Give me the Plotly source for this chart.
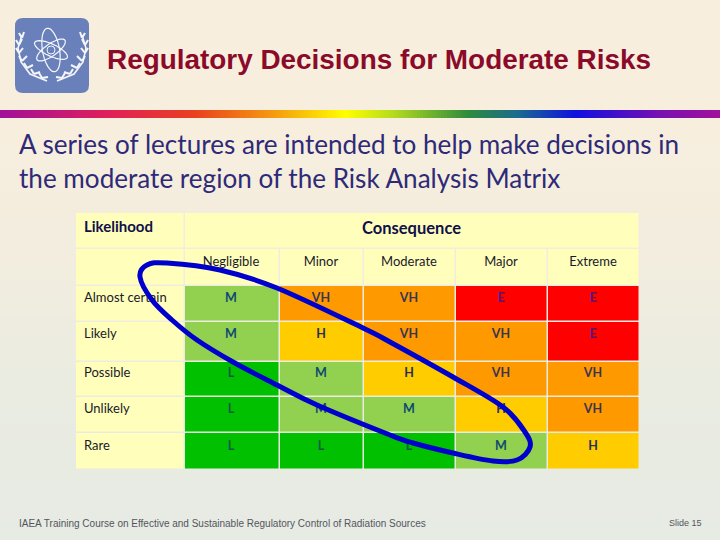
import math
import plotly.graph_objects as go

# ---- data ----
likelihood = ["Almost certain", "Likely", "Possible", "Unlikely", "Rare"]
consequence = ["Negligible", "Minor", "Moderate", "Major", "Extreme"]
ratings = [
    ["M", "VH", "VH", "E", "E"],
    ["M", "H", "VH", "VH", "E"],
    ["L", "M", "H", "VH", "VH"],
    ["L", "M", "M", "H", "VH"],
    ["L", "L", "L", "M", "H"],
]
title = "Regulatory Decisions for Moderate Risks"
subtitle = ["A series of lectures are intended to help make decisions in",
            "the moderate region of the Risk Analysis Matrix"]
footer = "IAEA Training Course on Effective and Sustainable Regulatory Control of Radiation Sources"
slide = "Slide 15"

# ---- styling / layout ----
LEVEL = {"Y": 0, "L": 1, "M": 2, "H": 3, "VH": 4, "E": 5}
COLORS = ["#FFFFBB", "#00C000", "#92D050", "#FFCC00", "#FF9900", "#FF0000"]
TEXT = {"L": "#0B5A42", "M": "#0E4A72", "H": "#2A2F55", "VH": "#3A3550", "E": "#55187A"}
col_edges = [185, 280, 364, 456, 548, 639.5]
row_edges = [286, 322, 362, 397, 433, 470]
left_edge, head_top, head_mid = 76, 213, 249
row_text_y = [299, 335, 374, 410, 447]
col_text_x = [231, 321, 409, 501, 593]

colorscale = []
for i, c in enumerate(COLORS):
    colorscale += [[i / 6, c], [(i + 1) / 6, c]]
colorscale[-1][0] = 1.0

fig = go.Figure()

# page background (vertical fade)
fig.add_trace(go.Heatmap(
    x=[180, 540], y=[0, 130, 260, 400, 540],
    z=[[0, 0], [0.05, 0.05], [0.35, 0.35], [0.8, 0.8], [1, 1]],
    zsmooth="best", zmin=0, zmax=1, showscale=False, hoverinfo="skip",
    colorscale=[[0, "#F8EEDD"], [1, "#E6EBE3"]],
))
# rainbow rule: a decorative ramp drawn as narrow columns
rb_stops = [[0, "#A0109A"], [.15, "#E0205A"], [.27, "#E8401F"], [.38, "#F59A10"], [.48, "#FFFF00"],
            [.55, "#B0D820"], [.65, "#2E8B3C"], [.72, "#1A6A90"], [.8, "#1010E0"], [.92, "#7A10B0"],
            [1, "#A0109A"]]
n_ramp = 240
fig.add_trace(go.Heatmap(
    x=[720 * i / n_ramp for i in range(n_ramp + 1)], y=[110, 117.5],
    z=[[(i + 0.5) / n_ramp for i in range(n_ramp)]],
    zmin=0, zmax=1, showscale=False, hoverinfo="skip", colorscale=rb_stops,
))
# header cells
fig.add_trace(go.Heatmap(
    x=[left_edge, col_edges[0], col_edges[-1]], y=[head_top, head_mid], z=[[0.5, 0.5]],
    xgap=1.5, ygap=1.5, zmin=0, zmax=6, colorscale=colorscale, showscale=False, hoverinfo="skip",
))
# matrix body
body = [[0] * 6] + [[0] + [LEVEL[v] for v in row] for row in ratings]
fig.add_trace(go.Heatmap(
    x=[left_edge] + col_edges, y=[head_mid] + row_edges,
    z=[[v + 0.5 for v in row] for row in body],
    xgap=1.5, ygap=1.5, zmin=0, zmax=6, colorscale=colorscale, showscale=False, hoverinfo="skip",
))
# cell labels
xs, ys, ts, cs = [], [], [], []
for r, row in enumerate(ratings):
    for c, v in enumerate(row):
        xs.append(col_text_x[c]); ys.append(row_text_y[r]); ts.append(v); cs.append(TEXT[v])
fig.add_trace(go.Scatter(x=xs, y=ys, text=ts, mode="text", hoverinfo="skip", showlegend=False,
                         textfont=dict(family="Lato", size=12.5, color=cs, weight="bold")))
fig.add_trace(go.Scatter(x=col_text_x, y=[263] * 5, text=consequence, mode="text", hoverinfo="skip",
                         showlegend=False, textfont=dict(family="Lato", size=13, color="#1A1A2A")))
fig.add_trace(go.Scatter(x=[84] * 5, y=row_text_y, text=likelihood, mode="text", textposition="middle right",
                         hoverinfo="skip", showlegend=False,
                         textfont=dict(family="Lato", size=13, color="#1A1A2A")))


def smooth_closed(pts):
    n = len(pts)
    d = f"M{pts[0][0]},{pts[0][1]}"
    for i in range(n):
        p0, p1, p2, p3 = pts[i - 1], pts[i], pts[(i + 1) % n], pts[(i + 2) % n]
        c1 = (p1[0] + (p2[0] - p0[0]) / 6, p1[1] + (p2[1] - p0[1]) / 6)
        c2 = (p2[0] - (p3[0] - p1[0]) / 6, p2[1] - (p3[1] - p1[1]) / 6)
        d += f" C{c1[0]:.1f},{c1[1]:.1f} {c2[0]:.1f},{c2[1]:.1f} {p2[0]},{p2[1]}"
    return d + " Z"


def ellipse(cx, cy, a, b, deg):
    t = math.radians(deg)
    pts = []
    for k in range(40):
        u = 2 * math.pi * k / 40
        x, y = a * math.cos(u), b * math.sin(u)
        pts.append(f"{cx + x * math.cos(t) - y * math.sin(t):.1f},{cy + x * math.sin(t) + y * math.cos(t):.1f}")
    return "M" + " L".join(pts) + " Z"


def rounded(x0, y0, x1, y1, r):
    return (f"M{x0 + r},{y0} L{x1 - r},{y0} Q{x1},{y0} {x1},{y0 + r} L{x1},{y1 - r} Q{x1},{y1} {x1 - r},{y1} "
            f"L{x0 + r},{y1} Q{x0},{y1} {x0},{y1 - r} L{x0},{y0 + r} Q{x0},{y0} {x0 + r},{y0} Z")


shapes = [
    # white grid under the matrix
    dict(type="rect", x0=left_edge - 1, x1=col_edges[-1] - 0.5, y0=head_top - 1, y1=row_edges[-1] - 0.5,
         fillcolor="#FFFFFF", line_width=0, layer="between"),
    # emblem
    dict(type="path", path=rounded(15, 18, 89, 93, 8), fillcolor="#6A80BA", line_width=0, layer="above"),
]
for a, b, deg in [(22, 8.5, 80), (18, 6, 25), (17, 6, -35)]:
    shapes.append(dict(type="path", path=ellipse(51, 50, a, b, deg), line=dict(color="#F4F6FA", width=1.2),
                       layer="above"))
shapes.append(dict(type="circle", x0=47, x1=55, y0=46, y1=54, line=dict(color="#F4F6FA", width=1), layer="above"))
for sign in (-1, 1):
    cx = 52
    stem = [(cx + sign * 30, 35), (cx + sign * 34, 48), (cx + sign * 31, 62), (cx + sign * 22, 74), (cx + sign * 5, 81)]
    shapes.append(dict(type="path", path="M" + " L".join(f"{x},{y}" for x, y in stem),
                       line=dict(color="#F4F6FA", width=1.6), layer="above"))
    for (x, y), (dx, dy) in zip(
            [(30, 38), (33, 45), (33, 53), (30, 61), (25, 68), (18, 74), (10, 78)],
            [(-2, -6), (-3, -6), (-4, -5), (-5, -5), (-6, -3), (-6, -2), (-6, -1)]):
        shapes.append(dict(type="path", path=f"M{cx + sign * x},{y} L{cx + sign * (x + dx)},{y + dy}",
                           line=dict(color="#F4F6FA", width=2), layer="above"))
        shapes.append(dict(type="path", path=f"M{cx + sign * x},{y} L{cx + sign * (x + 3)},{y - 5}",
                           line=dict(color="#F4F6FA", width=2), layer="above"))
# hand-drawn oval
oval = [(167, 263), (220, 270), (277, 288), (363, 328), (390, 342), (453, 377), (503, 407), (525, 432), (530, 447),
        (517, 460), (493, 461), (453, 453), (413, 443), (390, 435), (317, 405), (277, 385), (233, 362), (197, 340),
        (172, 320), (152, 300), (140, 277), (147, 265)]
shapes.append(dict(type="path", path=smooth_closed(oval), line=dict(color="#0000CC", width=5), layer="above"))


def note(x, y, text, size, color, family, anchor="left", bold=False):
    return dict(x=x, y=y, xref="x", yref="y", text=f"<b>{text}</b>" if bold else text, showarrow=False,
                xanchor=anchor, yanchor="middle", font=dict(family=family, size=size, color=color))


annotations = [
    note(105, 59, title, 27.9, "#8B0A2A", "Liberation Sans", bold=True),
    note(17, 144, subtitle[0], 26.1, "#2E2A78", "Lato"),
    note(17, 178, subtitle[1], 26.1, "#2E2A78", "Lato"),
    note(82, 226, "Likelihood", 15, "#10104A", "Lato", bold=True),
    note(411, 228, "Consequence", 16.5, "#10104A", "Lato", anchor="center", bold=True),
    note(17, 523, footer, 10, "#555560", "Liberation Sans"),
    note(704, 523, slide, 9, "#555560", "Liberation Sans", anchor="right"),
]

fig.update_layout(
    width=720, height=540, margin=dict(l=0, r=0, t=0, b=0), showlegend=False,
    paper_bgcolor="#F0EDE0", plot_bgcolor="#F0EDE0", shapes=shapes, annotations=annotations,
    xaxis=dict(range=[0, 720], visible=False, fixedrange=True),
    yaxis=dict(range=[540, 0], visible=False, fixedrange=True),
)
fig.write_html("out.html", config={"displayModeBar": False},
               post_script="document.body.style.margin='0';document.body.style.overflow='hidden';")
